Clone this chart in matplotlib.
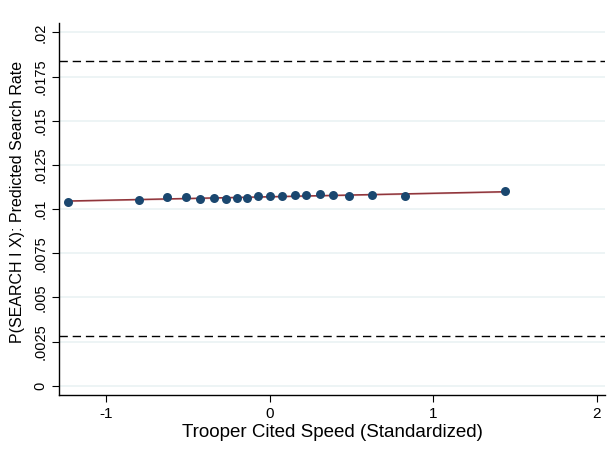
import matplotlib
matplotlib.use("Agg")
import matplotlib.pyplot as plt
import numpy as np

# binned means (20 bins)
speed_bins = [-1.234, -0.803, -0.632, -0.516, -0.426, -0.344, -0.267, -0.200,
              -0.139, -0.073, 0.000, 0.073, 0.151, 0.224, 0.306, 0.387,
              0.487, 0.628, 0.828, 1.437]
search_rate = [0.01038, 0.01051, 0.01068, 0.01068, 0.01058, 0.01062, 0.01055,
               0.01062, 0.01062, 0.01074, 0.01072, 0.01072, 0.01078, 0.01079,
               0.01083, 0.01078, 0.01075, 0.01079, 0.01075, 0.01100]
ci_halfwidth = 0.00004
ref_lines = [0.01838, 0.00283]

y_ticks = [0, 0.0025, 0.005, 0.0075, 0.01, 0.0125, 0.015, 0.0175, 0.02]
y_ticklabels = ["0", ".0025", ".005", ".0075", ".01", ".0125", ".015", ".0175", ".02"]
x_ticks = [-1, 0, 1, 2]

plt.rcParams["font.family"] = ["Liberation Sans", "DejaVu Sans"]

fig = plt.figure(figsize=(6.1, 4.55), dpi=100)
ax = fig.add_axes([0.0967, 0.1319, 0.895, 0.818])

navy = "#1a476f"
maroon = "#90353b"
grid_c = "#eaf2f3"

for t in y_ticks:
    ax.axhline(t, color=grid_c, lw=1.2, zorder=0)

# linear fit with a narrow band
xs = np.array(speed_bins)
coef = np.polyfit(xs, search_rate, 1)
xf = np.array([xs.min(), xs.max()])
yf = np.polyval(coef, xf)
ax.fill_between(xf, yf - ci_halfwidth, yf + ci_halfwidth, color="#d9a9ac",
                alpha=0.8, lw=0, zorder=2)
ax.plot(xf, yf, color=maroon, lw=1.1, zorder=3)

ax.scatter(speed_bins, search_rate, s=42, color=navy, zorder=4, linewidths=0)

for y in ref_lines:
    ax.axhline(y, color="black", lw=1.0, ls=(0, (6, 3.5)), zorder=1)

ax.set_xlim(-1.29, 2.05)
ax.set_ylim(-0.000526, 0.02054)
ax.set_xticks(x_ticks)
ax.set_xticklabels([str(t) for t in x_ticks], fontsize=11)
ax.set_yticks(y_ticks)
ax.set_yticklabels(y_ticklabels, fontsize=10.5, rotation=90, va="center")
ax.tick_params(length=5, width=0.8, color="black")

ax.spines["top"].set_visible(False)
ax.spines["right"].set_visible(False)
ax.spines["left"].set_linewidth(1.0)
ax.spines["bottom"].set_linewidth(1.0)

ax.set_xlabel("Trooper Cited Speed (Standardized)", fontsize=13.5, labelpad=2)
ax.set_ylabel("P(SEARCH I X): Predicted Search Rate", fontsize=11.5, labelpad=5)
ax.yaxis.set_label_coords(-0.062, 0.52)

fig.savefig("out.png", dpi=100)
